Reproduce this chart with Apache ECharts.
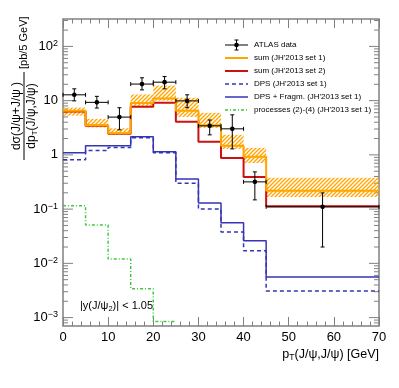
<!DOCTYPE html>
<html>
<head>
<meta charset="utf-8">
<script src="https://cdn.jsdelivr.net/npm/echarts@6/dist/echarts.min.js"></script>
<style>
html, body { margin: 0; padding: 0; background: #fff; }
#chart { width: 399px; height: 388px; }
</style>
</head>
<body>
<div id="chart"></div>
<script>
// bin edges in pT (GeV)
const binEdges = [0, 5, 10, 15, 20, 25, 30, 35, 40, 45, 70];

// ATLAS data
const dataX = [2.5, 7.5, 12.5, 17.5, 22.5, 27.5, 32.5, 37.5, 42.5, 57.5];
const dataXErr = [2.5, 2.5, 2.5, 2.5, 2.5, 2.5, 2.5, 2.5, 2.5, 12.5];
const dataY = [12.8, 9.3, 4.97, 20.2, 21.9, 9.9, 3.43, 3.02, 0.318, 0.11];
const dataYLow = [9.9, 7.3, 2.9, 15.8, 16.5, 7.4, 2.34, 1.29, 0.148, 0.020];
const dataYHigh = [16.5, 12.0, 7.4, 26.4, 27.8, 12.8, 4.4, 5.47, 0.486, 0.199];

// sum (JH'2013 set 1) with its band
const sumSet1 = [6.5, 3.5, 2.5, 9.0, 11.0, 6.5, 3.5, 1.47, 0.92, 0.217];
const sumSet1Low = [5.3, 3.2, 2.35, 8.0, 10.0, 5.0, 3.15, 1.29, 0.71, 0.168];
const sumSet1High = [7.45, 4.6, 3.1, 13.0, 19.0, 11.3, 5.95, 2.34, 1.35, 0.377];

// sum (JH'2013 set 2)
const sumSet2 = [6.3, 3.45, 2.45, 7.7, 9.1, 4.06, 1.74, 0.88, 0.39, 0.113];

// DPS, DPS + Fragm.
const dps = [0.81, 1.21, 1.37, 2.06, 1.09, 0.30, 0.10, 0.038, 0.017, 0.0031];
const dpsFragm = [1.09, 1.47, 1.47, 2.15, 1.14, 0.36, 0.13, 0.056, 0.026, 0.0056];

// processes (2)-(4), first five bins only (rest is below the frame)
const processes = [0.115, 0.051, 0.012, 0.0034, 0.00085];

// axis ticks
const xTicks = [0, 10, 20, 30, 40, 50, 60, 70];
const yMajorTicks = [1e-3, 1e-2, 1e-1, 1, 10, 100];
const yMinorMult = [2, 3, 4, 5, 6, 7, 8, 9];

const X_MIN = 0, X_MAX = 70, Y_MIN = 7e-4, Y_MAX = 320;
const FONT = '"Liberation Sans", Arial, sans-serif';
const AXIS_GREY = '#808080';
const ORANGE = '#ffa500';
const RED = '#cc1111';
const BLUE = '#3535b5';
const GREEN = '#3fc83f';

// histogram -> step points
function histPoints(values) {
	const pts = values.map((v, i) => [binEdges[i], v]);
	pts.push([binEdges[values.length], values[values.length - 1]]);
	return pts;
}

// hatch pattern for the band
const hatch = (function() {
	const c = document.createElement('canvas');
	c.width = 4;
	c.height = 4;
	const ctx = c.getContext('2d');
	ctx.strokeStyle = ORANGE;
	ctx.lineWidth = 1.35;
	ctx.beginPath();
	ctx.moveTo(0, 4); ctx.lineTo(4, 0);
	ctx.moveTo(-1, 1); ctx.lineTo(1, -1);
	ctx.moveTo(3, 5); ctx.lineTo(5, 3);
	ctx.stroke();
	return c;
})();

// y tick list (major + minor)
const yTickData = [];
yMajorTicks.forEach(v => yTickData.push([35, v, 1]));
[1e-4, 1e-3, 1e-2, 1e-1, 1, 10, 100].forEach(d => {
	yMinorMult.forEach(m => {
		const v = d * m;
		if (v > Y_MIN && v < Y_MAX) yTickData.push([35, v, 0]);
	});
});

const supStyle = { fontSize: 9, fontFamily: FONT, color: '#000', verticalAlign: 'top', lineHeight: 9 };
const labelFont = { fontSize: 13, fontFamily: FONT, color: '#000', lineHeight: 15 };

function yLabel(v) {
	const e = Math.round(Math.log10(v));
	if (Math.abs(Math.log10(v) - e) > 1e-6) return '';
	if (e === 0) return '{n|1}';
	if (e === 1) return '{n|10}';
	return '{n|10}{s|' + String(e).replace('-', '\u2212') + '}';
}

const legendItems = [
	{ name: 'ATLAS data', kind: 'data' },
	{ name: "sum (JH'2013 set 1)", color: ORANGE, width: 2, type: 'solid' },
	{ name: "sum (JH'2013 set 2)", color: RED, width: 2, type: 'solid' },
	{ name: "DPS (JH'2013 set 1)", color: BLUE, width: 1.5, type: [4, 3] },
	{ name: "DPS + Fragm. (JH'2013 set 1)", color: BLUE, width: 1.5, type: 'solid' },
	{ name: "processes (2)-(4) (JH'2013 set 1)", color: GREEN, width: 1.5, type: [3, 2, 1, 2] },
];

function buildLegend() {
	const children = [];
	const x1 = 225, x2 = 248, tx = 254;
	legendItems.forEach((it, i) => {
		const y = 45 + i * 13;
		if (it.kind === 'data') {
			children.push({ type: 'line', shape: { x1: x1, y1: y, x2: x2, y2: y }, style: { stroke: '#000', lineWidth: 1 } });
			children.push({ type: 'line', shape: { x1: 236.5, y1: y - 5, x2: 236.5, y2: y + 5 }, style: { stroke: '#000', lineWidth: 1 } });
			children.push({ type: 'line', shape: { x1: 234.5, y1: y - 5, x2: 238.5, y2: y - 5 }, style: { stroke: '#000', lineWidth: 1 } });
			children.push({ type: 'line', shape: { x1: 234.5, y1: y + 5, x2: 238.5, y2: y + 5 }, style: { stroke: '#000', lineWidth: 1 } });
			children.push({ type: 'circle', shape: { cx: 236.5, cy: y, r: 2.3 }, style: { fill: '#000' } });
		} else {
			children.push({
				type: 'line', shape: { x1: x1, y1: y, x2: x2, y2: y },
				style: { stroke: it.color, lineWidth: it.width, lineDash: it.type === 'solid' ? null : it.type }
			});
		}
		children.push({
			type: 'text', x: tx, y: y,
			style: { text: it.name, font: '8px ' + FONT, fill: '#000', verticalAlign: 'middle', align: 'left' }
		});
	});
	return children;
}

const chart = echarts.init(document.getElementById('chart'), null, { renderer: 'canvas' });

const option = {
	animation: false,
	backgroundColor: '#fff',
	grid: {
		left: 63, right: 20, top: 19, bottom: 62,
		show: true, borderColor: AXIS_GREY, borderWidth: 1.5, backgroundColor: 'transparent'
	},
	xAxis: [
		{
			type: 'value', min: X_MIN, max: X_MAX, interval: 10, position: 'bottom',
			axisLine: { show: false },
			axisTick: { show: true, inside: true, length: 9, lineStyle: { color: AXIS_GREY, width: 1 } },
			minorTick: { show: true, splitNumber: 5, length: 4.5, lineStyle: { color: AXIS_GREY, width: 1 } },
			axisLabel: {
				margin: 5, fontSize: 13, fontFamily: FONT, color: '#000',
				formatter: v => (xTicks.indexOf(v) >= 0 ? String(v) : '')
			},
			splitLine: { show: false },
		},
		{
			type: 'value', min: X_MIN, max: X_MAX, interval: 10, position: 'top',
			axisLine: { show: false },
			axisTick: { show: true, inside: true, length: 9, lineStyle: { color: AXIS_GREY, width: 1 } },
			minorTick: { show: true, splitNumber: 5, length: 4.5, lineStyle: { color: AXIS_GREY, width: 1 } },
			axisLabel: { show: false },
			splitLine: { show: false },
		},
	],
	yAxis: [
		{
			type: 'log', logBase: 10, min: Y_MIN, max: Y_MAX, splitNumber: 6,
			axisLine: { show: false },
			axisTick: { show: false },
			axisLabel: {
				margin: 5, formatter: yLabel, showMinLabel: false, showMaxLabel: false,
				rich: { n: labelFont, s: supStyle }
			},
			splitLine: { show: false },
		},
	],
	graphic: [
		// y axis title (rotated)
		{
			type: 'group', x: 24, y: 160, rotation: Math.PI / 2,
			children: [
				{
					type: 'text', x: 44, y: -1,
					style: { text: 'd\u03c3(J/\u03c8+J/\u03c8 )', font: '12px ' + FONT, fill: '#000', align: 'center', verticalAlign: 'bottom' }
				},
				{ type: 'line', shape: { x1: 0, y1: 0, x2: 88, y2: 0 }, style: { stroke: '#000', lineWidth: 1 } },
				{
					type: 'text', x: 44, y: 1,
					style: {
						text: '{n|dp}{t|T}{n|(J/\u03c8,J/\u03c8)}', align: 'center', verticalAlign: 'top',
						rich: {
							n: { fontSize: 12, fontFamily: FONT, color: '#000', lineHeight: 14 },
							t: { fontSize: 8, fontFamily: FONT, color: '#000', lineHeight: 8, verticalAlign: 'bottom' }
						}
					}
				},
				{
					type: 'text', x: 91, y: 0,
					style: { text: '[pb/5 GeV]', font: '11px ' + FONT, fill: '#000', align: 'left', verticalAlign: 'middle' }
				},
			]
		},
		// x axis title
		{
			type: 'text', x: 379, y: 355,
			style: {
				text: '{n|p}{t|T}{n|(J/\u03c8,J/\u03c8) [GeV]}', align: 'right', verticalAlign: 'middle',
				rich: {
					n: { fontSize: 12.5, fontFamily: FONT, color: '#000', lineHeight: 15 },
					t: { fontSize: 8.5, fontFamily: FONT, color: '#000', lineHeight: 9, verticalAlign: 'bottom' }
				}
			}
		},
		// rapidity cut
		{
			type: 'text', x: 80, y: 306,
			style: {
				text: '{n|\u007cy(J/\u03c8}{t|2}{n|)\u007c < 1.05}', align: 'left', verticalAlign: 'middle',
				rich: {
					n: { fontSize: 11, fontFamily: FONT, color: '#333', lineHeight: 13 },
					t: { fontSize: 7.5, fontFamily: FONT, color: '#333', lineHeight: 8, verticalAlign: 'bottom' }
				}
			}
		},
		{ type: 'group', children: buildLegend() },
	],
	series: [
		// y ticks, both sides
		{
			type: 'custom', silent: true, clip: false, z: 1,
			encode: { x: 0, y: 1 },
			data: yTickData,
			renderItem: function(params, api) {
				const v = api.value(1);
				const len = api.value(2) ? 10 : 5;
				const pl = api.coord([X_MIN, v]);
				const pr = api.coord([X_MAX, v]);
				const st = { stroke: AXIS_GREY, lineWidth: 1 };
				return {
					type: 'group', children: [
						{ type: 'line', shape: { x1: pl[0], y1: pl[1], x2: pl[0] + len, y2: pl[1] }, style: st },
						{ type: 'line', shape: { x1: pr[0] - len, y1: pr[1], x2: pr[0], y2: pr[1] }, style: st },
					]
				};
			}
		},
		// hatched band of sum set 1
		{
			type: 'custom', silent: true, z: 2,
			encode: { x: [0, 1], y: [2, 3] },
			data: sumSet1.map((v, i) => [binEdges[i], binEdges[i + 1], sumSet1Low[i], sumSet1High[i]]),
			renderItem: function(params, api) {
				const p0 = api.coord([api.value(0), api.value(3)]);
				const p1 = api.coord([api.value(1), api.value(2)]);
				return {
					type: 'rect',
					shape: { x: p0[0], y: p0[1], width: p1[0] - p0[0], height: p1[1] - p0[1] },
					style: { fill: { image: hatch, repeat: 'repeat' } }
				};
			}
		},
		{
			name: 'processes', type: 'line', step: 'end', symbol: 'none', z: 3,
			data: histPoints(processes),
			lineStyle: { color: GREEN, width: 1.5, type: [3, 2, 1, 2] }
		},
		{
			name: 'DPS', type: 'line', step: 'end', symbol: 'none', z: 3,
			data: histPoints(dps),
			lineStyle: { color: BLUE, width: 1.5, type: [4, 3] }
		},
		{
			name: 'DPS + Fragm.', type: 'line', step: 'end', symbol: 'none', z: 3,
			data: histPoints(dpsFragm),
			lineStyle: { color: BLUE, width: 1.5 }
		},
		{
			name: 'sum set 2', type: 'line', step: 'end', symbol: 'none', z: 4,
			data: histPoints(sumSet2),
			lineStyle: { color: RED, width: 2 }
		},
		{
			name: 'sum set 1', type: 'line', step: 'end', symbol: 'none', z: 5,
			data: histPoints(sumSet1),
			lineStyle: { color: ORANGE, width: 2 }
		},
		// ATLAS data with error bars
		{
			type: 'custom', z: 6,
			encode: { x: 0, y: 1 },
			data: dataX.map((x, i) => [x, dataY[i], dataXErr[i], dataYLow[i], dataYHigh[i]]),
			renderItem: function(params, api) {
				const x = api.value(0), y = api.value(1), xe = api.value(2);
				const c = api.coord([x, y]);
				const l = api.coord([x - xe, y]);
				const r = api.coord([x + xe, y]);
				const lo = api.coord([x, api.value(3)]);
				const hi = api.coord([x, api.value(4)]);
				const st = { stroke: '#000', lineWidth: 1 };
				const cap = 2;
				return {
					type: 'group', children: [
						{ type: 'line', shape: { x1: l[0], y1: c[1], x2: r[0], y2: c[1] }, style: st },
						{ type: 'line', shape: { x1: l[0], y1: c[1] - cap, x2: l[0], y2: c[1] + cap }, style: st },
						{ type: 'line', shape: { x1: r[0], y1: c[1] - cap, x2: r[0], y2: c[1] + cap }, style: st },
						{ type: 'line', shape: { x1: c[0], y1: lo[1], x2: c[0], y2: hi[1] }, style: st },
						{ type: 'line', shape: { x1: c[0] - cap, y1: lo[1], x2: c[0] + cap, y2: lo[1] }, style: st },
						{ type: 'line', shape: { x1: c[0] - cap, y1: hi[1], x2: c[0] + cap, y2: hi[1] }, style: st },
						{ type: 'circle', shape: { cx: c[0], cy: c[1], r: 2.3 }, style: { fill: '#000' } },
					]
				};
			}
		},
	]
};

chart.setOption(option);
window.addEventListener('resize', chart.resize);
</script>
</body>
</html>
